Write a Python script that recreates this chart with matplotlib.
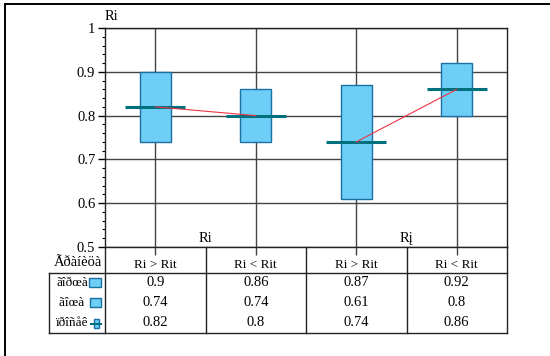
import matplotlib
matplotlib.use("Agg")
import matplotlib.pyplot as plt
from matplotlib.patches import Rectangle

plt.rcParams['font.family'] = ['Liberation Serif', 'DejaVu Serif']

# данные
headers = ["Ri > Rit", "Ri < Rit", "Ri > Rit", "Ri < Rit"]
groups = ["Ri", "Rį"]
upper = [0.9, 0.86, 0.87, 0.92]
lower = [0.74, 0.74, 0.61, 0.8]
median = [0.82, 0.8, 0.74, 0.86]
row_names = ["ãîðœà", "ãîœà ", "ïðîñåê"]
corner = "Ãðàíèöà"
y_name = "Ri"
yticks = [0.5, 0.6, 0.7, 0.8, 0.9, 1.0]
ylabels = ["0.5", "0.6", "0.7", "0.8", "0.9", "1"]

W, H = 550, 356
face = "#6dcff6"
edge = "#1b6fa3"
med_c = "#00707f"
grid_c = "#444444"

fig = plt.figure(figsize=(W / 100, H / 100), dpi=100)

# пиксели области графика
L, R, T, B = 105, 507, 28, 247
ax = fig.add_axes([L / W, (H - B) / H, (R - L) / W, (B - T) / H])

x = [i + 0.5 for i in range(len(upper))]
ax.bar(x, [u - l for u, l in zip(upper, lower)], bottom=lower, width=0.31,
       color=face, edgecolor=edge, linewidth=1.0, zorder=3)
ax.hlines(median, [v - 0.3 for v in x], [v + 0.3 for v in x],
          color=med_c, linewidth=2.2, zorder=4)
ax.plot(x[0:2], median[0:2], color="#ee3344", linewidth=0.8, zorder=5)
ax.plot(x[2:4], median[2:4], color="#ee3344", linewidth=0.8, zorder=5)

ax.set_xlim(0, 4)
ax.set_ylim(0.5, 1.0)
ax.set_xticks(x)
ax.set_xticklabels([])
ax.tick_params(axis='x', length=6, width=1, color=grid_c)
ax.set_yticks(yticks)
ax.set_yticklabels(ylabels, fontsize=10.5)
ax.set_yticks([v / 100 for v in range(50, 101, 2)], minor=True)
ax.tick_params(axis='y', which='major', length=5, width=1, pad=2)
ax.tick_params(axis='y', which='minor', length=2, width=0.8)
ax.grid(True, color=grid_c, linewidth=1.0)
ax.set_axisbelow(True)
for s in ax.spines.values():
    s.set_color("#222222")
    s.set_linewidth(1.0)

ax.text(1.0, 0.505, groups[0], ha='center', va='bottom', fontsize=10.5)
ax.text(3.0, 0.505, groups[1], ha='center', va='bottom', fontsize=10.5)

# таблица под графиком
ov = fig.add_axes([0, 0, 1, 1])
ov.set_xlim(0, W)
ov.set_ylim(H, 0)
ov.axis('off')
ov.patch.set_visible(False)

ov.text(105, 17, y_name, ha='left', va='center', fontsize=10.5)

lc = "#222222"
ov.plot([5, W], [4, 4], color="black", linewidth=1.4)
ov.plot([5, 5], [4, H], color="black", linewidth=1.4)

y_head, y_mid, y_bot = 247, 273, 333
ov.plot([L, L], [y_head, y_bot], color=lc, linewidth=1.0)
ov.plot([R, R], [y_head, y_bot], color=lc, linewidth=1.0)
for xs in [206, 306, 407]:
    ov.plot([xs, xs], [y_head, y_bot], color=lc, linewidth=1.0)
ov.plot([49, R], [y_mid, y_mid], color=lc, linewidth=1.0)
ov.plot([49, R], [y_bot, y_bot], color=lc, linewidth=1.0)
ov.plot([49, 49], [y_mid, y_bot], color=lc, linewidth=1.0)

centers = [L + (R - L) * (i + 0.5) / 4 for i in range(4)]
ov.text(102, 262, corner, ha='right', va='center', fontsize=10.5)
for cx, h in zip(centers, headers):
    ov.text(cx, 265, h, ha='center', va='center', fontsize=9.5)

rows = [upper, lower, median]
row_y = [283, 303, 323]
for ry, name, vals in zip(row_y, row_names, rows):
    ov.text(88, ry, name, ha='right', va='center', fontsize=9.5)
    for cx, v in zip(centers, vals):
        ov.text(cx, ry, f"{v:g}", ha='center', va='center', fontsize=10.5)

# значки легенды
ov.add_patch(Rectangle((89, 278), 12, 9, facecolor=face, edgecolor=edge, linewidth=1.0))
ov.add_patch(Rectangle((90, 298), 11, 9, facecolor=face, edgecolor=edge, linewidth=1.0))
ov.add_patch(Rectangle((93.5, 319), 5, 9, facecolor=face, edgecolor=edge, linewidth=1.0))
ov.plot([91, 101], [323.5, 323.5], color=med_c, linewidth=1.5)

fig.savefig("out.png", dpi=100)
